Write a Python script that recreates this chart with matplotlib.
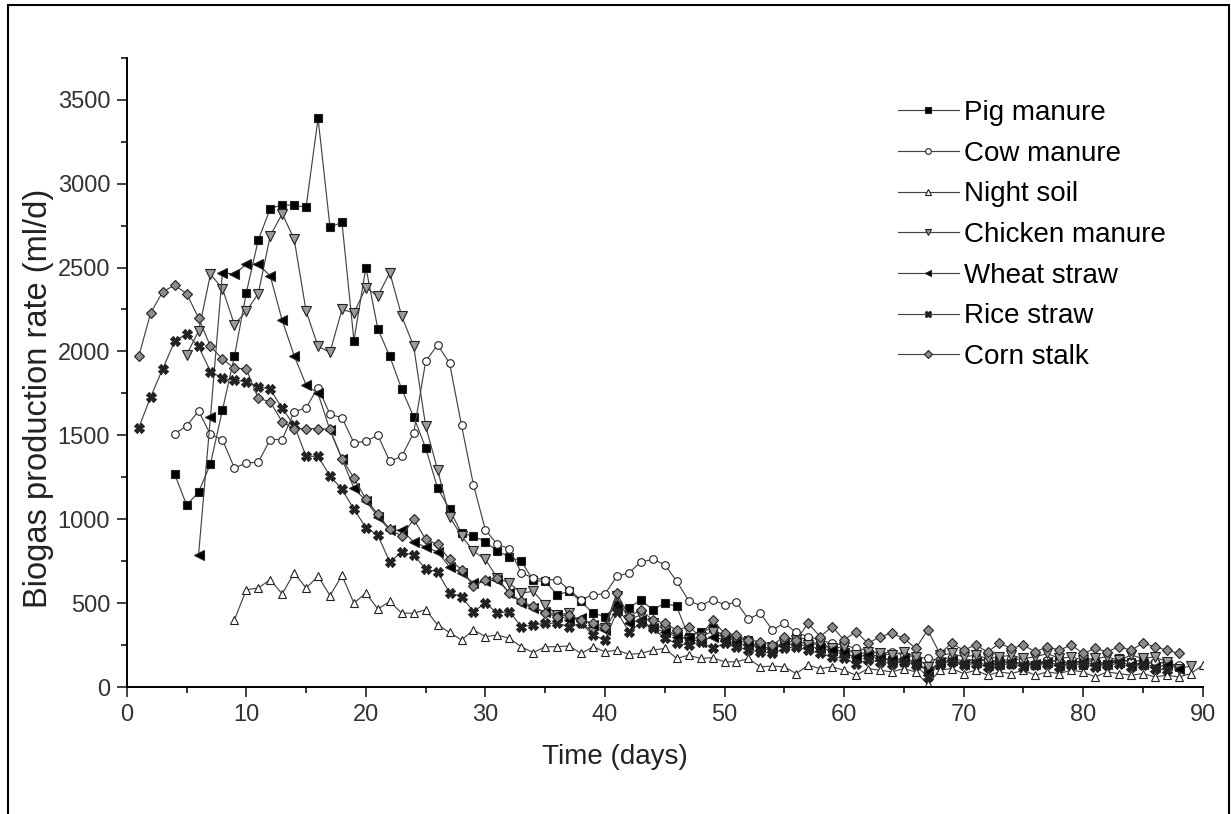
import numpy as np
import matplotlib
matplotlib.use("Agg")
import matplotlib.pyplot as plt
from matplotlib.patches import Rectangle
from matplotlib.ticker import MultipleLocator

plt.rcParams['font.family'] = ['Liberation Sans', 'DejaVu Sans']

# %%
# biogas production rate (ml/d), one value per day starting at the given day
pig_start = 4
pig = [1270, 1085, 1160, 1330, 1650, 1970, 2350, 2665, 2850, 2875, 2870, 2860, 3390, 2740,
       2770, 2065, 2500, 2135, 1970, 1775, 1610, 1425, 1185, 1060, 915, 900, 865, 810, 775,
       750, 635, 630, 550, 570, 510, 440, 420, 490, 470, 520, 460, 500, 480, 300, 330, 350,
       300, 290, 280, 230, 220, 270, 300, 280, 250, 230, 210, 170, 200, 180, 160, 150, 150,
       100, 130, 160, 140, 170, 150, 160, 140, 150, 130, 150, 160, 140, 130, 150, 140, 170,
       150, 160, 140, 150, 120]

cow_start = 4
cow = [1510, 1555, 1645, 1505, 1475, 1305, 1335, 1340, 1475, 1475, 1640, 1665, 1785, 1625,
       1605, 1455, 1465, 1500, 1345, 1375, 1515, 1940, 2040, 1930, 1560, 1205, 935, 850, 825,
       680, 650, 640, 640, 580, 520, 550, 555, 660, 680, 745, 760, 730, 630, 515, 485, 520,
       490, 505, 405, 440, 340, 380, 325, 300, 280, 260, 250, 230, 220, 200, 210, 190, 180,
       170, 160, 180, 150, 170, 160, 150, 170, 160, 140, 160, 150, 140, 160, 150, 140, 160,
       150, 130, 150, 140, 130]

night_start = 9
night = [400, 580, 590, 640, 555, 680, 590, 660, 545, 665, 500, 560, 465, 510, 440, 440, 460,
         370, 325, 280, 340, 300, 310, 290, 240, 205, 240, 240, 245, 200, 240, 210, 220, 195,
         200, 220, 230, 170, 190, 170, 175, 150, 150, 170, 120, 125, 120, 80, 130, 110, 120,
         100, 70, 110, 100, 90, 110, 90, 15, 100, 110, 80, 100, 70, 90, 80, 100, 70, 90, 80,
         100, 90, 60, 90, 80, 70, 80, 60, 70, 60, 80, 130]

chicken_start = 5
chicken = [1980, 2120, 2460, 2375, 2160, 2240, 2345, 2690, 2820, 2670, 2240, 2030, 1995, 2250,
           2230, 2380, 2330, 2470, 2210, 2030, 1555, 1295, 1015, 900, 810, 760, 650, 620, 560,
           570, 490, 430, 440, 380, 330, 350, 540, 400, 430, 380, 340, 310, 280, 300, 330,
           290, 280, 260, 230, 240, 260, 280, 250, 260, 230, 240, 190, 210, 200, 190, 210, 180,
           120, 190, 200, 180, 190, 170, 180, 190, 170, 180, 200, 170, 180, 160, 170, 180, 160,
           190, 170, 180, 150, 110, 125]

wheat_start = 6
wheat = [785, 1610, 2470, 2460, 2520, 2520, 2450, 2185, 1975, 1800, 1750, 1530, 1360, 1185,
         1110, 1015, 935, 935, 865, 835, 805, 715, 680, 620, 630, 640, 560, 500, 470, 450, 430,
         400, 410, 370, 340, 470, 380, 400, 350, 330, 300, 290, 270, 300, 280, 260, 250, 240,
         230, 250, 260, 240, 230, 220, 200, 180, 190, 170, 160, 170, 150, 90, 150, 160, 140,
         150, 130, 140, 150, 130, 140, 150, 130, 140, 150, 130, 140, 150, 130, 140, 120, 130,
         110]

rice_start = 1
rice = [1545, 1730, 1895, 2060, 2105, 2030, 1880, 1840, 1830, 1820, 1790, 1775, 1660, 1560,
        1375, 1375, 1258, 1178, 1060, 950, 905, 745, 805, 785, 705, 685, 562, 538, 450, 500,
        440, 450, 360, 370, 380, 380, 360, 380, 310, 280, 450, 330, 380, 350, 290, 260, 250,
        270, 230, 260, 240, 220, 210, 200, 230, 240, 220, 200, 180, 170, 140, 160, 150, 140,
        150, 130, 60, 140, 150, 130, 140, 120, 130, 140, 120, 130, 140, 120, 130, 140, 120,
        130, 140, 120, 130, 110, 100]

corn_start = 1
corn = [1970, 2230, 2355, 2395, 2345, 2200, 2030, 1955, 1900, 1895, 1720, 1700, 1580, 1540,
        1540, 1540, 1535, 1360, 1245, 1120, 1030, 940, 900, 1000, 880, 850, 760, 700, 600, 640,
        650, 560, 510, 480, 440, 420, 430, 400, 380, 360, 560, 420, 460, 400, 380, 340, 360,
        300, 400, 320, 310, 280, 270, 250, 300, 280, 380, 300, 360, 280, 330, 260, 300, 320,
        290, 230, 340, 200, 260, 220, 250, 210, 260, 230, 250, 210, 240, 220, 250, 200, 230,
        210, 240, 220, 260, 240, 220, 200]

labels = ["Pig manure", "Cow manure", "Night soil", "Chicken manure",
          "Wheat straw", "Rice straw", "Corn stalk"]

# %%
series = [(pig_start, pig), (cow_start, cow), (night_start, night), (chicken_start, chicken),
          (wheat_start, wheat), (rice_start, rice), (corn_start, corn)]
styles = [
    dict(marker="s", mfc="black", ms=6),
    dict(marker="o", mfc="white", ms=5.5),
    dict(marker="^", mfc="white", ms=6),
    dict(marker="v", mfc="#9a9a9a", ms=6.5),
    dict(marker="<", mfc="black", ms=6.5),
    dict(marker="X", mfc="#222222", ms=6.5),
    dict(marker="D", mfc="#8c8c8c", ms=5.5),
]

fig = plt.figure(figsize=(12.31, 8.14), dpi=100)
ax = fig.add_axes([0.103, 0.156, 0.874, 0.773])

for (start, vals), lab, st in zip(series, labels, styles):
    days = np.arange(start, start + len(vals))
    ax.plot(days, vals, color="#444444", lw=0.85, mec="#222222", mew=0.8,
            label=lab, **st)

ax.set_xlim(0, 90)
ax.set_ylim(0, 3750)
ax.xaxis.set_major_locator(MultipleLocator(10))
ax.xaxis.set_minor_locator(MultipleLocator(5))
ax.yaxis.set_minor_locator(MultipleLocator(250))
ax.set_yticks(np.arange(0, 3501, 500))

for side in ["top", "right"]:
    ax.spines[side].set_visible(False)
for side in ["left", "bottom"]:
    ax.spines[side].set_linewidth(1.4)
ax.tick_params(which="major", length=7, width=1.3, labelsize=17, colors="#333333", pad=5)
ax.tick_params(which="minor", length=4, width=1.1)

ax.set_xlabel("Time (days)", fontsize=20, color="#222222")
ax.set_ylabel("Biogas production rate (ml/d)", fontsize=23.5, color="#222222")
ax.xaxis.set_label_coords(0.454, -0.09)
ax.yaxis.set_label_coords(-0.068, 0.458)

ax.legend(loc="upper left", bbox_to_anchor=(0.709, 0.908), bbox_transform=fig.transFigure,
          frameon=False, fontsize=20, handlelength=2.2, handletextpad=0.2,
          labelspacing=0.53, markerscale=0.75)

# frame around the whole picture
fig.patches.append(Rectangle((0.0065, -0.01), 0.992, 1.004, transform=fig.transFigure,
                             fill=False, edgecolor="black", lw=1.5))

plt.savefig("out.png", dpi=100)
